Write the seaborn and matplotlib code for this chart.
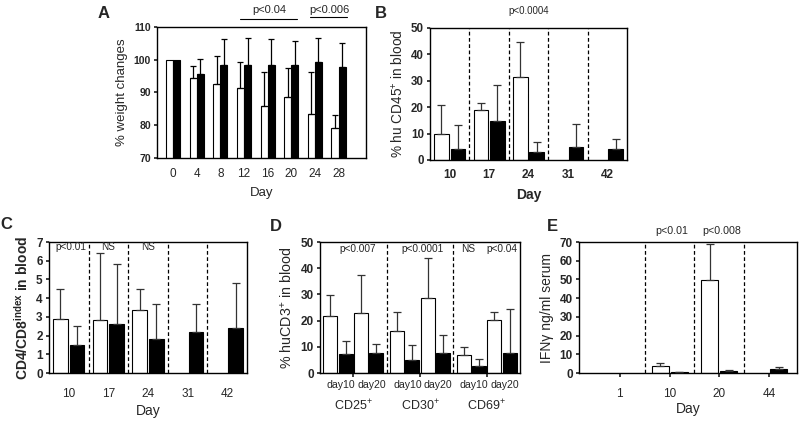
import numpy as np
import pandas as pd
import matplotlib
matplotlib.use('Agg')
import matplotlib.pyplot as plt
import seaborn as sns

# A: % weight changes
days_a = ['0', '4', '8', '12', '16', '20', '24', '28']
wt_white = [100, 94.3, 92.6, 91.5, 86.0, 88.6, 83.4, 79.1]
wt_white_err = [0, 3.7, 8.4, 7.9, 10.2, 8.9, 12.8, 3.9]
wt_black = [100, 95.7, 98.3, 98.4, 98.3, 98.5, 99.3, 97.8]
wt_black_err = [0, 4.6, 8.1, 8.2, 8.0, 7.1, 7.4, 7.3]

# B: % hu CD45+ in blood
days_b = ['10', '17', '24', '31', '42']
cd45_white = [10.0, 18.8, 31.6, np.nan, np.nan]
cd45_white_err = [10.8, 2.9, 13.0, 0, 0]
cd45_black = [4.3, 14.6, 3.2, 5.0, 4.0]
cd45_black_err = [8.9, 13.7, 3.7, 8.6, 4.1]

# C: CD4/CD8 index
days_c = ['10', '17', '24', '31', '42']
ratio_white = [2.9, 2.83, 3.37, np.nan, np.nan]
ratio_white_err = [1.58, 3.6, 1.1, 0, 0]
ratio_black = [1.5, 2.6, 1.84, 2.2, 2.43]
ratio_black_err = [1.02, 3.2, 1.86, 1.5, 2.37]

# D: % huCD3+ in blood (white day10, black day10, white day20, black day20)
markers_d = ['CD25', 'CD30', 'CD69']
marker_labels_d = ['CD25$^{+}$', 'CD30$^{+}$', 'CD69$^{+}$']
d10_white = [21.8, 15.9, 6.9]
d10_white_err = [8.1, 7.3, 3.1]
d10_black = [7.3, 4.8, 2.5]
d10_black_err = [4.8, 5.8, 2.7]
d20_white = [22.9, 28.7, 20.2]
d20_white_err = [14.4, 15.3, 3.0]
d20_black = [7.6, 7.6, 7.6]
d20_black_err = [3.3, 6.8, 16.9]

# E: IFNg ng/ml serum
days_e = ['1', '10', '20', '44']
ifn_white = [np.nan, 3.5, 49.5, np.nan]
ifn_white_err = [0, 1.6, 19.3, 0]
ifn_black = [np.nan, 0.4, 0.9, 1.9]
ifn_black_err = [0, 0.1, 0.5, 1.1]

sns.set_theme(style='ticks')
plt.rcParams['font.family'] = ['Liberation Sans', 'DejaVu Sans']
plt.rcParams['mathtext.fontset'] = 'custom'
plt.rcParams['mathtext.rm'] = 'Liberation Sans'
plt.rcParams['mathtext.it'] = 'Liberation Sans:italic'
plt.rcParams['mathtext.bf'] = 'Liberation Sans:bold'
plt.rcParams['axes.linewidth'] = 1.0
plt.rcParams['axes.edgecolor'] = 'black'


def bar_panel(ax, cats, series, width, gap, ecolor='black', capsize=2.5):
    # series: list of (name, color, values, errs)
    rows = []
    for name, color, vals, errs in series:
        for c, v in zip(cats, vals):
            rows.append({'cat': c, 'grp': name, 'val': v})
    df = pd.DataFrame(rows)
    names = [s[0] for s in series]
    pal = {s[0]: s[1] for s in series}
    sns.barplot(data=df, x='cat', y='val', hue='grp', order=cats, hue_order=names,
                palette=pal, saturation=1, edgecolor='black', linewidth=0.8,
                width=width, gap=gap, errorbar=None, legend=False, ax=ax)
    n = len(series)
    slot = width / n
    offsets = (np.arange(n) - (n - 1) / 2) * slot
    for p in ax.patches:
        cx = p.get_x() + p.get_width() / 2
        h = p.get_height()
        if not np.isfinite(h):
            continue
        k = int(round(cx))
        j = int(np.argmin(np.abs(offsets - (cx - k))))
        e = series[j][3][k]
        if e and e > 0:
            ax.errorbar(cx, h, yerr=[[0], [e]], fmt='none', ecolor=ecolor,
                        elinewidth=0.9, capsize=capsize, capthick=0.9, zorder=3)
    ax.set_xlabel('')
    ax.set_ylabel('')


def dashes(ax, n):
    for i in range(n - 1):
        ax.axvline(i + 0.5, color='black', lw=0.9, ls=(0, (3, 2)), zorder=0.5)


def bold_yticks(ax):
    for t in ax.get_yticklabels():
        t.set_fontweight('bold')


W, H = 800, 423
fig = plt.figure(figsize=(8, 4.23), dpi=100)


def make_ax(l, r, t, b):
    return fig.add_axes([l / W, 1 - b / H, (r - l) / W, (b - t) / H])


# ---- A ----
axA = make_ax(157, 366, 27, 158)
bar_panel(axA, days_a, [('w', 'white', wt_white, wt_white_err),
                        ('b', 'black', wt_black, wt_black_err)],
          width=0.6, gap=0, capsize=2)
axA.set_ylim(70, 110)
axA.set_yticks([70, 80, 90, 100, 110])
axA.set_xlim(-0.68, 8.16)
axA.set_ylabel('% weight changes', fontsize=9.5)
axA.set_xlabel('Day', fontsize=9.5, labelpad=5)
axA.tick_params(axis='x', length=0, labelsize=8.5, pad=7.5)
axA.tick_params(axis='y', length=2.5, labelsize=7.5, pad=2)
bold_yticks(axA)
axA.plot([2.84, 5.25], [112.4, 112.4], color='black', lw=0.8, clip_on=False)
axA.plot([5.8, 7.37], [113.1, 113.1], color='black', lw=0.8, clip_on=False)
axA.text(4.05, 113.6, 'p<0.04', ha='center', va='bottom', fontsize=8)
axA.text(6.6, 113.6, 'p<0.006', ha='center', va='bottom', fontsize=8)

# ---- B ----
axB = make_ax(430, 627, 28, 160)
bar_panel(axB, days_b, [('w', 'white', cd45_white, cd45_white_err),
                        ('b', 'black', cd45_black, cd45_black_err)],
          width=0.84, gap=0.12, ecolor='#333333', capsize=3)
dashes(axB, 5)
axB.set_ylim(0, 50)
axB.set_yticks([0, 10, 20, 30, 40, 50])
axB.set_xlim(-0.5, 4.5)
axB.set_ylabel('% hu CD45$^{+}$ in blood', fontsize=9.8)
axB.set_xlabel('Day', fontsize=10, fontweight='bold', labelpad=5)
axB.tick_params(axis='x', length=0, labelsize=8.5, pad=6.5)
axB.tick_params(axis='y', length=2.5, labelsize=8.3, pad=2)
bold_yticks(axB)
for t in axB.get_xticklabels():
    t.set_fontweight('bold')
axB.text(2, 54.5, 'p<0.0004', ha='center', va='bottom', fontsize=7)

# ---- C ----
axC = make_ax(49, 247, 242, 373)
bar_panel(axC, days_c, [('w', 'white', ratio_white, ratio_white_err),
                        ('b', 'black', ratio_black, ratio_black_err)],
          width=0.84, gap=0.12, ecolor='#333333', capsize=3)
dashes(axC, 5)
axC.set_ylim(0, 7)
axC.set_yticks(range(8))
axC.set_xlim(-0.5, 4.5)
axC.set_ylabel('CD4/CD8$^{\\mathbf{index}}$ in blood', fontsize=10,
               fontweight='bold')
axC.set_xlabel('Day', fontsize=10, labelpad=3)
axC.tick_params(axis='x', length=0, labelsize=8.5, pad=10.5)
axC.tick_params(axis='y', length=2.5, labelsize=8.5, pad=2)
bold_yticks(axC)
for x, s in [(0.05, 'p<0.01'), (1, 'NS'), (2, 'NS')]:
    axC.text(x, 6.72, s, ha='center', va='center', fontsize=7.2)

# ---- D ----
axD = make_ax(320, 520, 242, 373)
bar_panel(axD, markers_d, [('w10', 'white', d10_white, d10_white_err),
                           ('b10', 'black', d10_black, d10_black_err),
                           ('w20', 'white', d20_white, d20_white_err),
                           ('b20', 'black', d20_black, d20_black_err)],
          width=0.92, gap=0.1, ecolor='#333333', capsize=3)
dashes(axD, 3)
axD.set_ylim(0, 50)
axD.set_yticks([0, 10, 20, 30, 40, 50])
axD.set_xlim(-0.5, 2.5)
axD.set_ylabel('% huCD3$^{+}$ in blood', fontsize=10.3)
axD.set_xticks([0, 1, 2])
axD.set_xticklabels(marker_labels_d)
minor_pos = [k + o for k in range(3) for o in (-0.19, 0.27)]
axD.set_xticks(minor_pos, minor=True)
axD.set_xticklabels(['day10', 'day20'] * 3, minor=True)
axD.tick_params(axis='x', which='major', length=3, labelsize=9, pad=15)
axD.tick_params(axis='x', which='minor', length=0, labelsize=7.6, pad=5)
axD.tick_params(axis='y', length=2.5, labelsize=8.5, pad=2)
bold_yticks(axD)
for x, s in [(0.07, 'p<0.007'), (1.04, 'p<0.0001'), (1.73, 'NS'), (2.23, 'p<0.04')]:
    axD.text(x, 47.3, s, ha='center', va='center', fontsize=7.3)

# ---- E ----
axE = make_ax(579, 797, 242, 373)
bar_panel(axE, days_e, [('w', 'white', ifn_white, ifn_white_err),
                        ('b', 'black', ifn_black, ifn_black_err)],
          width=0.76, gap=0.1, ecolor='#333333', capsize=3)
dashes(axE, 4)
axE.set_ylim(0, 70)
axE.set_yticks(range(0, 71, 10))
axE.set_xlim(-0.82, 3.56)
axE.set_ylabel('IFNγ ng/ml serum', fontsize=10)
axE.set_xlabel('Day', fontsize=10, labelpad=1)
axE.tick_params(axis='x', length=3, labelsize=8.5, pad=8)
axE.tick_params(axis='y', length=2.5, labelsize=8.5, pad=2)
bold_yticks(axE)
axE.text(1.04, 73, 'p<0.01', ha='center', va='bottom', fontsize=7.7)
axE.text(2.04, 73, 'p<0.008', ha='center', va='bottom', fontsize=7.7)

# panel letters
for s, x, y in [('A', 104, 14), ('B', 381, 14), ('C', 6, 224), ('D', 276, 226), ('E', 552, 226)]:
    fig.text(x / W, 1 - y / H, s, fontsize=12, fontweight='bold', ha='center', va='center')

fig.savefig('out.png', dpi=100)
